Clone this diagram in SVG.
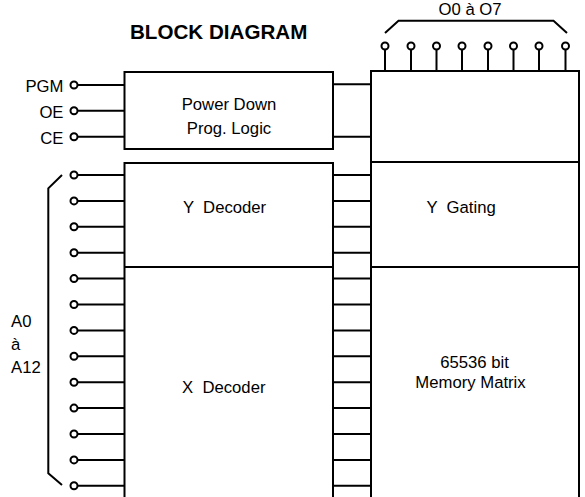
<svg xmlns="http://www.w3.org/2000/svg" width="585" height="497" viewBox="0 0 585 497">
<style>
text{font-family:"Liberation Sans",Arial,sans-serif;font-size:16.7px;fill:#000;white-space:pre}
.t{font-weight:bold;font-size:20.6px}
.b{fill:none;stroke:#000;stroke-width:2}
.w{stroke:#000;stroke-width:2;fill:none}
.p{fill:#fff;stroke:#000;stroke-width:2}
</style>
<rect width="585" height="497" fill="#fff"/>
<text class="t" x="130" y="38.5">BLOCK DIAGRAM</text>
<g id="power-down">
<rect class="b" x="124.5" y="72" width="208.5" height="77"/>
<text x="229" y="109.5" text-anchor="middle">Power Down</text>
<text x="229" y="133.5" text-anchor="middle">Prog. Logic</text>
</g>
<g id="y-decoder">
<path class="b" d="M124.5,500 V163 H333 V500 M124.5,267 H333"/>
<text x="183" y="213.3" xml:space="preserve">Y  Decoder</text>
</g>
<g id="x-decoder">
<text x="182" y="393.3" xml:space="preserve">X  Decoder</text>
</g>
<g id="memory">
<path class="b" d="M371,500 V71 H579 V500 M371,162 H579 M371,267 H579"/>
<text x="426.5" y="213.3" xml:space="preserve">Y  Gating</text>
<text x="474.5" y="368.3" text-anchor="middle">65536 bit</text>
<text x="470.5" y="388.3" text-anchor="middle">Memory Matrix</text>
</g>
<g id="control-pins">
<text x="63.5" y="92" text-anchor="end">PGM</text>
<text x="63.5" y="118" text-anchor="end">OE</text>
<text x="63.5" y="144" text-anchor="end">CE</text>
</g>
<g id="address-label">
<text x="11" y="326.7">A0</text>
<text x="11" y="350">à</text>
<text x="11" y="373.3">A12</text>
</g>
<g id="output-label">
<text x="438.5" y="15">O0 à O7</text>
</g>
<g id="connectors">
<path class="w" d="M77.5,85 H125 M77.5,110.7 H125 M77.5,136.7 H125"/>
<path class="w" d="M333,84.3 H372 M333,136.7 H372"/>
<path class="w" d="M77.5,175 H125 M77.5,200.9 H125 M77.5,226.8 H125 M77.5,252.7 H125 M77.5,278.6 H125 M77.5,304.5 H125 M77.5,330.4 H125 M77.5,356.3 H125 M77.5,382.2 H125 M77.5,408.1 H125 M77.5,434 H125 M77.5,459.9 H125 M77.5,485.8 H125"/>
<path class="w" d="M333,175 H372 M333,200.9 H372 M333,226.8 H372 M333,252.7 H372 M333,278.6 H372 M333,304.5 H372 M333,330.4 H372 M333,356.3 H372 M333,382.2 H372 M333,408.1 H372 M333,434 H372 M333,459.9 H372 M333,485.8 H372"/>
<path class="w" d="M385,49.5 V71 M411,49.5 V71 M436.5,49.5 V71 M462,49.5 V71 M488,49.5 V71 M513.5,49.5 V71 M539,49.5 V71 M565.5,49.5 V71"/>
<polyline class="w" points="62,175 48.3,188.3 48.3,473.3 62,485"/>
<polyline class="w" points="385,33 398.5,20.7 553.5,20.7 567,33"/>
<g class="p">
<circle cx="74" cy="85" r="3.5"/>
<circle cx="74" cy="110.7" r="3.5"/>
<circle cx="74" cy="136.7" r="3.5"/>
<circle cx="74" cy="175" r="3.5"/>
<circle cx="74" cy="200.9" r="3.5"/>
<circle cx="74" cy="226.8" r="3.5"/>
<circle cx="74" cy="252.7" r="3.5"/>
<circle cx="74" cy="278.6" r="3.5"/>
<circle cx="74" cy="304.5" r="3.5"/>
<circle cx="74" cy="330.4" r="3.5"/>
<circle cx="74" cy="356.3" r="3.5"/>
<circle cx="74" cy="382.2" r="3.5"/>
<circle cx="74" cy="408.1" r="3.5"/>
<circle cx="74" cy="434" r="3.5"/>
<circle cx="74" cy="459.9" r="3.5"/>
<circle cx="74" cy="485.8" r="3.5"/>
<circle cx="385" cy="46" r="3.5"/>
<circle cx="411" cy="46" r="3.5"/>
<circle cx="436.5" cy="46" r="3.5"/>
<circle cx="462" cy="46" r="3.5"/>
<circle cx="488" cy="46" r="3.5"/>
<circle cx="513.5" cy="46" r="3.5"/>
<circle cx="539" cy="46" r="3.5"/>
<circle cx="565.5" cy="46" r="3.5"/>
</g>
</g>
</svg>
